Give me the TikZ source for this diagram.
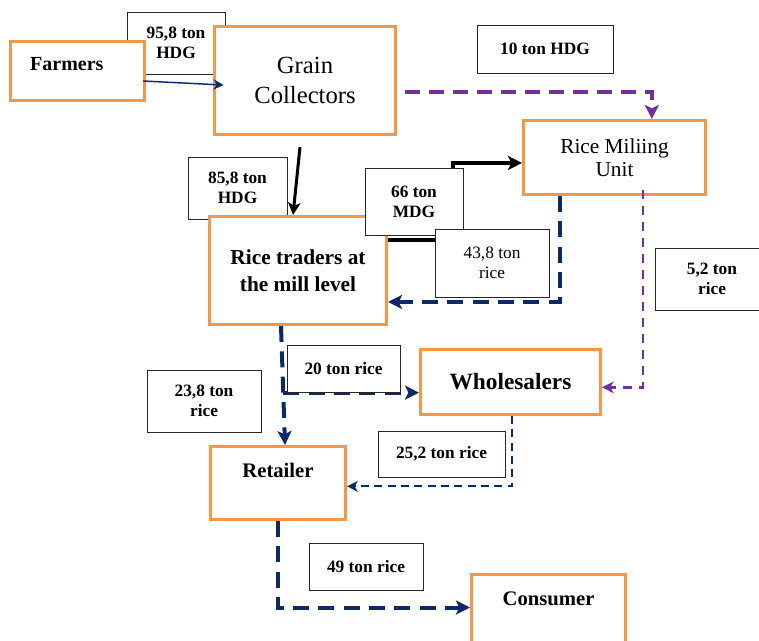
\documentclass[tikz,border=0pt]{standalone}
\usepackage{fontspec}
\setmainfont{Liberation Serif}
\usepackage{tikz}
\usetikzlibrary{arrows.meta,positioning}

\definecolor{boxorange}{HTML}{F79646}
\definecolor{flownavy}{HTML}{0E2A66}
\definecolor{flowpurple}{HTML}{7030A0}

\begin{document}
\begin{tikzpicture}[x=0.75pt,y=-0.75pt,>={Stealth[length=6pt 1.5,width=6pt 1.5,inset=2.5pt]},
    actor/.style={draw=boxorange,line width=2.25pt,fill=white,align=center,inner sep=2pt},
    qty/.style={draw=black!85,line width=0.6pt,fill=white,align=center,inner sep=1pt,font=\fontsize{13}{15}\selectfont\bfseries},
    bigdash/.style={flownavy,line width=3pt,dash pattern=on 12pt off 7pt},
    smalldash/.style={flownavy,line width=1.4pt,dash pattern=on 6pt off 4pt}]
  \useasboundingbox (0,0) rectangle (759,640);

    %labels lying under the boxes
    \node[qty, minimum width=73.5pt, minimum height=46.5pt] (hdg958) at (176,43) {95,8 ton\\HDG};
    \node[qty, minimum width=74.25pt, minimum height=46.5pt] (hdg858) at (237.5,188) {85,8 ton\\HDG};

    %actors
    \node[actor, text width=71pt, inner xsep=14.6pt, align=left, minimum height=44.25pt, text depth=10pt, font=\fontsize{15}{18}\selectfont\bfseries] (farmers) at (77.5,71) {Farmers};
    \node[actor, minimum width=135.75pt, minimum height=81pt, font=\fontsize{18.5}{23}\selectfont] (grain) at (305,80.5) {Grain\\Collectors};
    \node[actor, minimum width=136.5pt, minimum height=55.5pt, font=\fontsize{16}{17}\selectfont] (mill) at (614.5,157.5) {Rice Miliing\\Unit};
    \node[actor, minimum width=132.75pt, minimum height=81pt, font=\fontsize{16}{20}\selectfont\bfseries] (traders) at (298,270.5) {Rice traders at\\the mill level};
    \node[actor, minimum width=135pt, minimum height=48.75pt, font=\fontsize{17.5}{20}\selectfont\bfseries] (wholesalers) at (510.5,382) {Wholesalers};
    \node[actor, minimum width=101.25pt, minimum height=54.75pt, text depth=19pt, font=\fontsize{15.5}{18}\selectfont\bfseries] (retailer) at (278,483) {Retailer};
    \node[actor, minimum width=115.5pt, minimum height=55.5pt, text depth=20pt, font=\fontsize{15.5}{18}\selectfont\bfseries] (consumer) at (548.5,611.5) {Consumer};

    %flows
    \draw[->,flownavy,line width=1.1pt] ([xshift=-2pt,yshift=-7.5pt]farmers.east) -- ([xshift=8pt,yshift=-3.4pt]grain.west);
    \draw[->,line width=2.25pt] ([xshift=-3.75pt,yshift=-8.25pt]grain.south) -- ([xshift=-3.75pt]traders.north);
    \draw[->,flowpurple,line width=3pt,dash pattern=on 11pt off 7pt] ([xshift=6pt,yshift=-8.6pt]grain.east) -| ([xshift=28pt]mill.north);
    \draw[->,line width=3pt] ([yshift=22.9pt]traders.east) -- ++(65,0) |- ([yshift=-4.1pt]mill.west);
    \draw[->,bigdash] ([xshift=-40.9pt]mill.south) |- ([yshift=-23.6pt]traders.east);
    \draw[->,flowpurple,line width=1.8pt,dash pattern=on 7pt off 5pt] ([xshift=21.4pt,yshift=4.5pt]mill.south) |- ([yshift=-4pt]wholesalers.east);
    \draw[->,bigdash] ([xshift=-12.75pt]traders.south) -- coordinate[pos=0.56] (split) ([xshift=5.25pt]retailer.north);
    \draw[->,bigdash] (split) -- (split -| wholesalers.west);
    \draw[->,smalldash] ([xshift=1.1pt]wholesalers.south) |- ([yshift=-2.5pt]retailer.east);
    \draw[->,bigdash] (retailer.south) |- ([yshift=3pt]consumer.west);

    %quantities
    \node[qty, minimum width=102pt, minimum height=36pt] (hdg10) at (545,49) {10 ton HDG};
    \node[qty, minimum width=73.5pt, minimum height=50.25pt] (mdg66) at (414,201.5) {66 ton\\MDG};
    \node[qty, minimum width=85.5pt, minimum height=51pt, font=\fontsize{13}{15}\selectfont] (rice438) at (492,263) {43,8 ton\\rice};
    \node[qty, minimum width=85.5pt, minimum height=46.5pt] (rice52) at (712,279) {5,2 ton\\rice};
    \node[qty, minimum width=84.75pt, minimum height=35.25pt] (rice20) at (343.5,368.5) {20 ton rice};
    \node[qty, minimum width=85.5pt, minimum height=46.5pt] (rice238) at (204,401) {23,8 ton\\rice};
    \node[qty, minimum width=95.25pt, minimum height=34.5pt] (rice252) at (441.5,454) {25,2 ton rice};
    \node[qty, minimum width=85.5pt, minimum height=35.25pt] (rice49) at (366,566.5) {49 ton rice};
\end{tikzpicture}
\end{document}
